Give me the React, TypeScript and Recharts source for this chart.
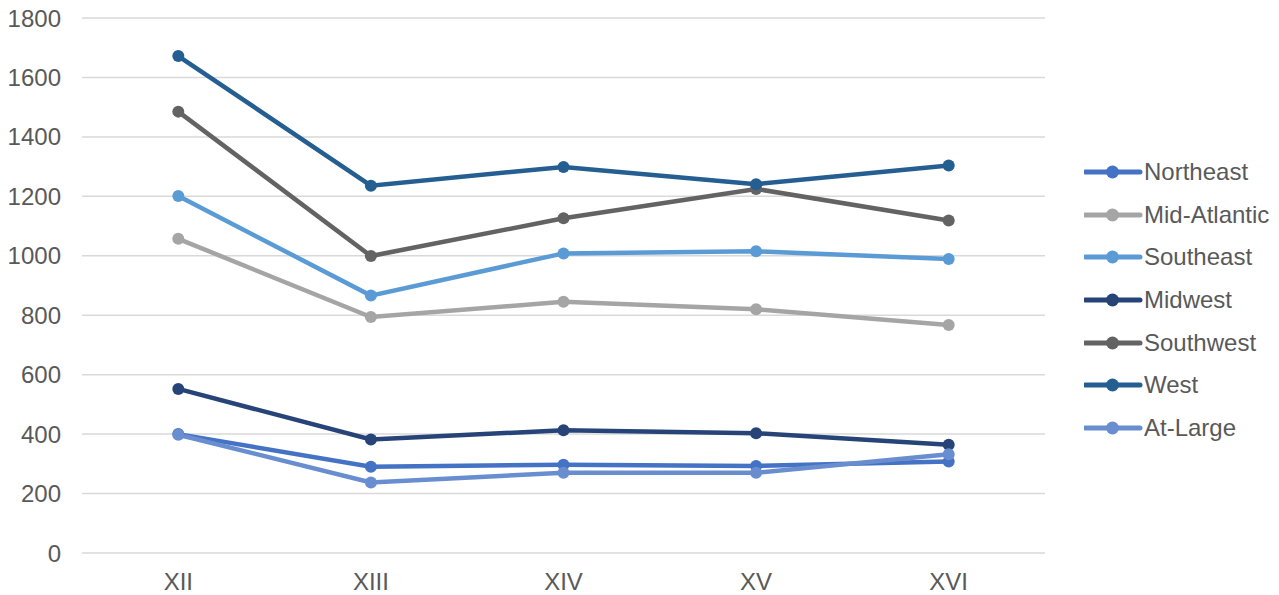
import React from "react";
import { LineChart, Line, XAxis, YAxis, CartesianGrid, Legend } from "recharts";

const categories = ["XII", "XIII", "XIV", "XV", "XVI"];
const northeast = [400, 290, 297, 293, 308];
const midAtlantic = [1057, 794, 845, 820, 767];
const southeast = [1201, 866, 1008, 1015, 989];
const midwest = [552, 382, 413, 403, 364];
const southwest = [1485, 999, 1126, 1225, 1119];
const west = [1672, 1236, 1299, 1241, 1304];
const atLarge = [398, 237, 270, 270, 332];
const yTicks = [0, 200, 400, 600, 800, 1000, 1200, 1400, 1600, 1800];

const seriesDefs = [
  { key: "Northeast", values: northeast, color: "#4472C4" },
  { key: "Mid-Atlantic", values: midAtlantic, color: "#A5A5A5" },
  { key: "Southeast", values: southeast, color: "#5B9BD5" },
  { key: "Midwest", values: midwest, color: "#264478" },
  { key: "Southwest", values: southwest, color: "#636363" },
  { key: "West", values: west, color: "#255E91" },
  { key: "At-Large", values: atLarge, color: "#698ED0" },
];

const data = categories.map((c, i) => {
  const row: Record<string, string | number> = { name: c };
  seriesDefs.forEach((s) => {
    row[s.key] = s.values[i];
  });
  return row;
});

const FONT = "'Liberation Sans', Arial, sans-serif";
const TEXT = "#595959";

const LegendContent = () => (
  <div style={{ fontFamily: FONT, fontSize: 24, color: TEXT }}>
    {seriesDefs.map((s) => (
      <div
        key={s.key}
        style={{ display: "flex", alignItems: "center", height: 42.6, whiteSpace: "nowrap" }}
      >
        <svg width={60} height={16} style={{ display: "block" }}>
          <line x1={1} y1={8} x2={56} y2={8} stroke={s.color} strokeWidth={5} strokeLinecap="round" />
          <circle cx={28.5} cy={8} r={6.5} fill={s.color} />
        </svg>
        <span>{s.key}</span>
      </div>
    ))}
  </div>
);

export default function App() {
  return (
    <div style={{ width: 1271, height: 595, position: "relative", marginTop: -8 }}>
      <LineChart
        width={1271}
        height={595}
        data={data}
        margin={{ top: 18, right: 234, bottom: 12, left: 14 }}
      >
        <CartesianGrid horizontal vertical={false} stroke="#D9D9D9" strokeWidth={1.5} />
        <XAxis
          dataKey="name"
          padding={{ left: 96.3, right: 96.3 }}
          axisLine={false}
          tickLine={false}
          tickSize={6}
          tickMargin={14}
          height={30}
          tick={{ fontSize: 24, fill: TEXT, fontFamily: FONT }}
          interval={0}
        />
        <YAxis
          domain={[0, 1800]}
          ticks={yTicks}
          axisLine={false}
          tickLine={false}
          width={60}
          tickSize={6}
          tickMargin={15}
          interval={0}
          tick={{ fontSize: 24, fill: TEXT, fontFamily: FONT }}
        />
        <Legend
          layout="vertical"
          align="center"
          verticalAlign="middle"
          content={<LegendContent />}
          wrapperStyle={{ left: 1076, top: 151, width: 195, height: 300 }}
        />
        {seriesDefs.map((s) => (
          <Line
            key={s.key}
            type="linear"
            dataKey={s.key}
            stroke={s.color}
            strokeWidth={4.5}
            dot={{ r: 6, fill: s.color, stroke: s.color, strokeWidth: 0 }}
            activeDot={false}
            isAnimationActive={false}
          />
        ))}
      </LineChart>
    </div>
  );
}
